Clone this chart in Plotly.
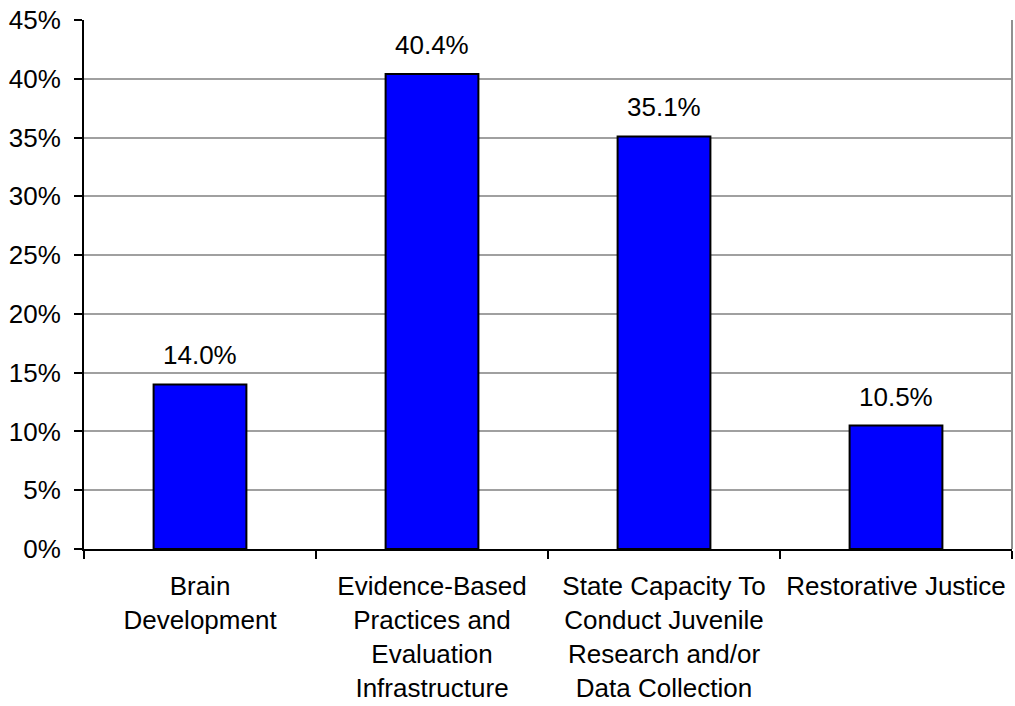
import plotly.graph_objects as go

categories = [
    "Brain<br>Development",
    "Evidence-Based<br>Practices and<br>Evaluation<br>Infrastructure",
    "State Capacity To<br>Conduct Juvenile<br>Research and/or<br>Data Collection",
    "Restorative Justice",
]
shares = [14.0, 40.4, 35.1, 10.5]
y_ticks = [0, 5, 10, 15, 20, 25, 30, 35, 40, 45]

FONT = "Liberation Sans, Arial, sans-serif"
FSIZE = 26

fig = go.Figure(
    go.Bar(
        x=categories,
        y=shares,
        marker=dict(color="#0000FF", line=dict(color="#000000", width=2)),
        hoverinfo="skip",
    )
)

# value labels above each bar
for cat, val in zip(categories, shares):
    fig.add_annotation(
        x=cat, y=val, text=f"{val:.1f}%", showarrow=False,
        yanchor="middle", yshift=29,
        font=dict(family=FONT, size=FSIZE, color="#000000"),
    )

# grey frame line on the right edge of the plot area
fig.add_shape(
    type="line", xref="paper", yref="paper", x0=1, x1=1, y0=0, y1=1,
    line=dict(color="#909090", width=2),
)

fig.update_layout(
    width=1015, height=706,
    margin=dict(l=84, r=3, t=20, b=155),
    paper_bgcolor="white", plot_bgcolor="white",
    bargap=0.6,
    showlegend=False,
    font=dict(family=FONT, size=FSIZE, color="#000000"),
)
fig.update_xaxes(
    type="category",
    showline=True, linecolor="#000000", linewidth=2,
    ticks="outside", tickson="boundaries", ticklen=8, tickwidth=2, tickcolor="#000000",
    ticklabelstandoff=13,
    showgrid=False,
    tickfont=dict(family=FONT, size=FSIZE, color="#000000"),
)
fig.update_yaxes(
    range=[0, 45], tickvals=y_ticks, ticktext=[f"{v}%" for v in y_ticks],
    showline=True, linecolor="#000000", linewidth=2,
    ticks="outside", ticklen=8, tickwidth=2, tickcolor="#000000",
    ticklabelstandoff=8,
    showgrid=True, gridcolor="#a0a0a0", gridwidth=2,
    zeroline=False,
    tickfont=dict(family=FONT, size=FSIZE, color="#000000"),
)

fig.write_html("out.html")
